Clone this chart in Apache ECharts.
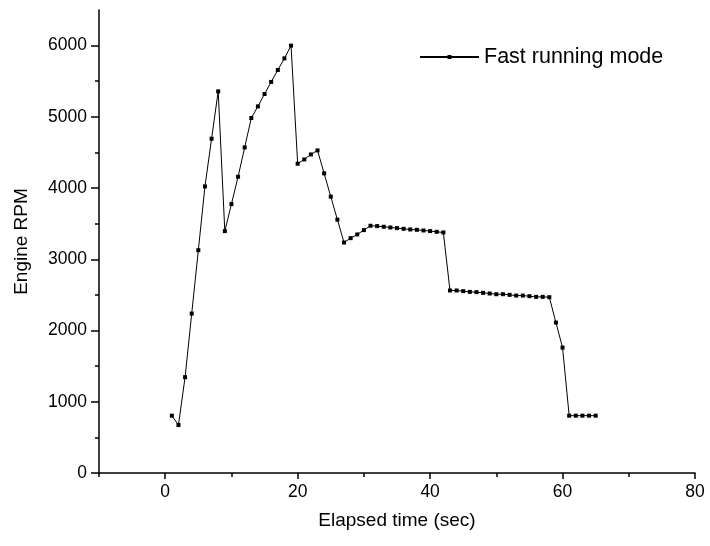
<!DOCTYPE html>
<html>
<head>
<meta charset="utf-8">
<script src="https://cdn.jsdelivr.net/npm/echarts@6/dist/echarts.min.js"></script>
<style>html,body{margin:0;padding:0;background:#fff}#c{width:710px;height:546px}</style>
</head>
<body>
<div id="c"></div>
<script>
const seriesName = 'Fast running mode';
const timeSec = [1,2,3,4,5,6,7,8,9,10,11,12,13,14,15,16,17,18,19,20,21,22,23,24,25,26,27,28,29,30,31,32,33,34,35,36,37,38,39,40,41,42,43,44,45,46,47,48,49,50,51,52,53,54,55,56,57,58,59,60,61,62,63,64,65];
const engineRpm = [805,674,1345,2238,3128,4023,4693,5358,3396,3775,4159,4571,4984,5147,5321,5490,5658,5821,6000,4342,4402,4472,4529,4206,3880,3557,3236,3297,3349,3410,3471,3466,3457,3447,3438,3428,3419,3414,3405,3396,3386,3377,2562,2562,2553,2543,2539,2529,2520,2510,2510,2501,2491,2491,2482,2473,2473,2468,2112,1761,805,805,805,805,805];
const yMajorTicks = [0,1000,2000,3000,4000,5000,6000];
const yMinorTicks = [500,1500,2500,3500,4500,5500];
const xMajorTicks = [0,20,40,60,80];
const xMinorTicks = [-10,10,30,50,70];
const xTitle = 'Elapsed time (sec)';
const yTitle = 'Engine RPM';

const font = 'Liberation Sans, Arial, sans-serif';
const axisLine = {show:true, onZero:false, lineStyle:{color:'#000', width:1.5}};
const chart = echarts.init(document.getElementById('c'), null, {renderer:'canvas'});
chart.setOption({
  animation:false,
  backgroundColor:'#fff',
  grid:{left:99, right:15, top:10, bottom:73, containLabel:false},
  legend:{
    data:[seriesName], left:419, top:46, padding:0, itemWidth:59, itemHeight:5, itemGap:0,
    textStyle:{fontFamily:font, fontSize:21.5, color:'#000'}
  },
  xAxis:[
    {type:'value', min:-10, max:80, position:'bottom',
     name:xTitle, nameLocation:'middle', nameGap:38,
     nameTextStyle:{fontFamily:font, fontSize:19, color:'#000'},
     axisLine:axisLine, splitLine:{show:false},
     axisTick:{show:true, length:6, customValues:xMajorTicks, lineStyle:{color:'#000', width:1.5}},
     axisLabel:{customValues:xMajorTicks, margin:10, fontFamily:font, fontSize:17.5, color:'#000', formatter:v=>String(v)}},
    {type:'value', min:-10, max:80, position:'bottom',
     axisLine:{show:false, onZero:false}, splitLine:{show:false},
     axisTick:{show:true, length:4, customValues:xMinorTicks, lineStyle:{color:'#000', width:1.5}},
     axisLabel:{show:false}}
  ],
  yAxis:[
    {type:'value', min:0, max:6500, position:'left',
     name:yTitle, nameLocation:'middle', nameGap:68, nameRotate:90,
     nameTextStyle:{fontFamily:font, fontSize:19, color:'#000'},
     axisLine:axisLine, splitLine:{show:false},
     axisTick:{show:true, length:8, customValues:yMajorTicks, lineStyle:{color:'#000', width:1.5}},
     axisLabel:{customValues:yMajorTicks, margin:12, fontFamily:font, fontSize:17.5, color:'#000', formatter:v=>String(v)}},
    {type:'value', min:0, max:6500, position:'left',
     axisLine:{show:false, onZero:false}, splitLine:{show:false},
     axisTick:{show:true, length:4, customValues:yMinorTicks, lineStyle:{color:'#000', width:1.5}},
     axisLabel:{show:false}}
  ],
  series:[{
    name:seriesName, type:'line', xAxisIndex:0, yAxisIndex:0,
    data:timeSec.map((t,i)=>[t, engineRpm[i]]),
    symbol:'rect', symbolSize:4, showAllSymbol:true,
    lineStyle:{color:'#000', width:1},
    itemStyle:{color:'#000'}
  }]
});
</script>
</body>
</html>
